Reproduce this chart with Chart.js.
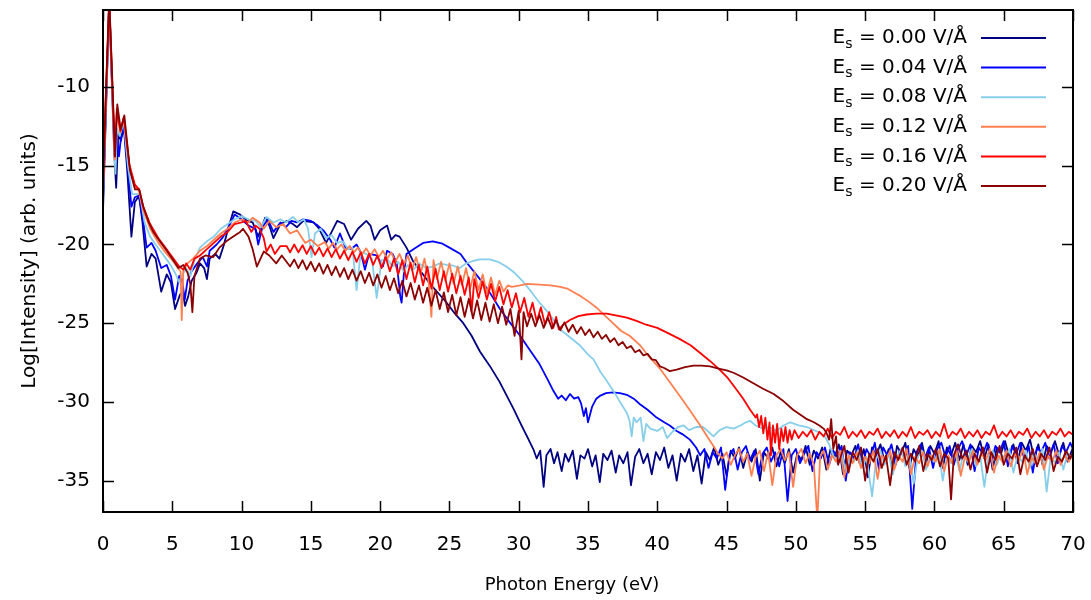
<!DOCTYPE html>
<html>
<head>
<meta charset="utf-8">
<script src="https://cdn.jsdelivr.net/npm/chart.js@4.4.0/dist/chart.umd.min.js"></script>
<style>
  html, body { margin: 0; padding: 0; background: #fff; }
</style>
</head>
<body>
<canvas id="hhg" width="1091" height="600"></canvas>
<script>
// Spectres HHG pour différents champs statiques E_s (log de l'intensité)

const fieldLabels = ['0.00', '0.04', '0.08', '0.12', '0.16', '0.20'];
const colors = ['#000080', '#0000ff', '#87ceeb', '#ff7f50', '#ff0000', '#8b0000'];
const xTicks = [0, 5, 10, 15, 20, 25, 30, 35, 40, 45, 50, 55, 60, 65, 70];
const yTicks = [-35, -30, -25, -20, -15, -10];

// E_s = 0.00 V/Å
const es000 = [
  [0,-17.9],[0.2,-12],[0.45,-4.5],[0.65,-10],[0.8,-14.0],[0.95,-16.4],[1.1,-13.0],[1.3,-13.4],[1.5,-12.5],
  [1.75,-15.3],[2.05,-19.5],[2.3,-17.3],[2.6,-16.9],[2.85,-18.6],[3.15,-21.4],[3.5,-20.6],[3.8,-20.9],
  [4.2,-23.0],[4.6,-21.9],[4.9,-22.4],[5.2,-24.1],[5.55,-23.2],[5.75,-23.0],[5.92,-23.9],[6.15,-23.3],
  [6.4,-22.3],[6.75,-21.8],[7.0,-21.2],[7.3,-21.5],[7.5,-22.2],[7.7,-20.9],[8.1,-20.6],[8.4,-20.9],
  [8.7,-20.1],[9.0,-19.1],[9.4,-17.9],[9.9,-18.1],[10.4,-18.5],[10.8,-18.6],[11.2,-19.5],[11.7,-18.3],
  [12.0,-18.8],[12.3,-19.6],[12.8,-18.7],[13.3,-18.5],[13.7,-18.7],[14.0,-18.9],[14.45,-18.5],[15.2,-18.6],
  [15.6,-19.0],[16.1,-19.9],[16.5,-19.2],[16.9,-18.5],[17.4,-18.7],[17.9,-19.7],[18.4,-19.0],[19.0,-18.5],
  [19.3,-18.8],[19.6,-19.7],[20.0,-19.1],[20.5,-18.8],[20.8,-19.7],[21.1,-19.4],[21.4,-19.5],[21.9,-20.2],
  [22.4,-21.1],[23.0,-21.8],[23.6,-22.5],[24.2,-23.1],[24.8,-23.7],[25.4,-24.4],[26.0,-25.0],[26.6,-25.8],
  [27.2,-26.8],[27.9,-27.7],[28.6,-28.7],[29.6,-30.4],[30.2,-31.5],[30.6,-32.2],[31.05,-33.0],
  [31.3,-33.6],[31.55,-33.1],[31.8,-35.4],[32.0,-33.4],[32.3,-33.0],[32.55,-33.9],[32.8,-33.2],[33.1,-34.4],
  [33.35,-33.3],[33.6,-33.8],[33.9,-33.1],[34.2,-34.9],[34.45,-33.4],[34.75,-33.6],[35.0,-33.0],[35.3,-34.1],
  [35.55,-33.4],[35.85,-35.1],[36.1,-33.3],[36.4,-33.7],[36.7,-33.1],[37.0,-34.5],[37.25,-33.4],[37.55,-33.9],
  [37.85,-33.2],[38.1,-35.3],[38.4,-33.5],[38.7,-33.0],[39.0,-33.9],[39.3,-33.3],[39.6,-34.6],[39.9,-33.2],
  [40.2,-33.7],[40.5,-32.9],[40.8,-34.2],[41.1,-33.4],[41.4,-35.0],[41.7,-33.3],[42.0,-33.8],[42.3,-33.0],
  [42.6,-34.4],[42.9,-33.4],[43.2,-35.2],[43.5,-33.2],[43.8,-33.7],[44.1,-32.9],[44.4,-34.0],[44.7,-33.3],
  [45.0,-34.7],[45.3,-33.1],[45.6,-33.6],[45.9,-32.9],[46.2,-34.2],[46.5,-33.2],[46.8,-33.8],[47.1,-33.0],
  [47.4,-35.0],[47.7,-33.2],[48.0,-33.6],[48.3,-32.9],[48.6,-34.1],[48.9,-33.2],[49.2,-33.9],[49.5,-33.0],
  [49.8,-34.5],[50.1,-33.3],[50.4,-33.7],[50.7,-32.8],[51.0,-34.0],[51.3,-33.1],[51.6,-33.6],[51.9,-32.9],
  [52.2,-34.3],[52.5,-33.0],[52.8,-33.5],[53.1,-32.7],[53.4,-34.6],[53.7,-33.1],[54.0,-33.4],[54.3,-32.8],
  [54.6,-33.9],[54.9,-33.0],[55.2,-34.8],[55.5,-32.9],[55.8,-33.4],[56.1,-32.7],[56.4,-33.8],[56.7,-33.0],
  [57.0,-34.5],[57.3,-32.8],[57.6,-33.3],[57.9,-32.6],[58.2,-34.2],[58.5,-33.0],[58.8,-33.5],[59.1,-32.6],
  [59.4,-33.9],[59.7,-32.8],[60.0,-33.3],[60.3,-32.5],[60.6,-34.2],[60.9,-32.9],[61.2,-33.4],[61.5,-32.6],
  [61.8,-33.7],[62.1,-32.7],[62.4,-34.0],[62.7,-32.8],[63.0,-33.2],[63.3,-32.5],[63.6,-33.6],[63.9,-32.7],
  [64.2,-34.3],[64.5,-32.9],[64.8,-33.3],[65.1,-32.5],[65.4,-33.5],[65.7,-32.7],[66.0,-33.9],[66.3,-32.6],
  [66.6,-33.1],[66.9,-32.4],[67.2,-33.6],[67.5,-32.7],[67.8,-34.0],[68.1,-32.8],[68.4,-33.2],[68.7,-32.5],
  [69.0,-33.4],[69.3,-32.6],[69.6,-33.8],[70.0,-32.9]
];

// E_s = 0.04 V/Å
const es004 = [
  [0,-17.2],[0.2,-11.5],[0.45,-4.6],[0.65,-9.8],[0.8,-13.3],[0.95,-12.6],[1.15,-14.4],[1.3,-13.2],[1.5,-12.4],
  [1.8,-15.2],[2.05,-17.6],[2.3,-17.0],[2.6,-16.9],[2.9,-18.5],[3.15,-20.2],[3.5,-19.9],[3.8,-20.4],
  [4.2,-21.5],[4.6,-21.3],[4.9,-22.0],[5.2,-23.5],[5.5,-22.0],[5.7,-22.2],[5.9,-23.5],[6.1,-22.3],
  [6.4,-21.7],[6.8,-21.2],[7.2,-20.8],[7.5,-21.4],[7.7,-20.4],[8.2,-20.0],[8.6,-19.6],[9.0,-19.0],
  [9.5,-18.1],[10.0,-18.4],[10.5,-18.8],[11.0,-19.0],[11.2,-20.0],[11.5,-18.9],[11.9,-18.4],[12.3,-19.2],
  [12.8,-18.6],[13.2,-18.9],[13.6,-18.5],[14.0,-18.6],[14.45,-18.4],[15.0,-18.5],[15.5,-18.8],[15.9,-19.1],
  [16.4,-19.7],[16.7,-20.2],[17.1,-19.3],[17.5,-20.2],[17.9,-20.3],[18.3,-20.0],[18.6,-20.5],[18.9,-21.6],
  [19.2,-20.6],[19.75,-20.7],[20.2,-21.4],[20.5,-20.4],[20.9,-20.6],[21.2,-21.2],[21.45,-23.3],[21.55,-23.7],
  [21.7,-22.0],[21.9,-20.6],[22.4,-20.3],[23.1,-19.9],[23.8,-19.8],[24.5,-19.95],[25.0,-20.2],[25.8,-20.6],
  [26.2,-21.1],[27.2,-22.2],[27.8,-22.9],[28.65,-24.1],[29.4,-25.0],[30.1,-25.8],[30.8,-26.7],[31.5,-27.6],
  [32.1,-28.6],[32.5,-29.3],[32.85,-29.8],[33.1,-29.6],[33.4,-29.9],[33.7,-29.5],[34.0,-29.8],[34.3,-29.7],
  [34.5,-30.1],[34.7,-30.9],[34.85,-30.4],[35.0,-31.3],[35.3,-30.3],[35.6,-29.8],[35.9,-29.6],[36.3,-29.45],
  [36.8,-29.4],[37.3,-29.45],[37.8,-29.55],[38.3,-29.8],[38.75,-30.15],[39.3,-30.5],[39.95,-31.0],[40.5,-31.3],
  [40.9,-31.5],[41.4,-31.85],[41.8,-32.05],[42.35,-32.4],[42.8,-32.9],
  [43.1,-33.4],[43.4,-33.0],[43.7,-34.2],[44.0,-33.2],[44.3,-33.6],[44.6,-32.9],[44.9,-35.6],[45.2,-33.4],
  [45.5,-33.0],[45.8,-34.3],[46.1,-33.2],[46.4,-32.8],[46.7,-33.7],[47.0,-33.1],[47.3,-34.6],[47.6,-33.3],
  [47.9,-32.9],[48.2,-33.8],[48.5,-33.2],[48.8,-34.1],[49.1,-33.0],[49.4,-36.3],[49.7,-33.4],[50.0,-33.0],
  [50.3,-33.9],[50.6,-33.3],[50.9,-32.8],[51.2,-34.4],[51.5,-33.2],[51.8,-33.6],[52.1,-32.9],[52.4,-34.0],
  [52.7,-33.1],[53.0,-33.5],[53.3,-32.8],[53.6,-35.0],[53.9,-33.2],[54.2,-33.6],[54.5,-32.7],[54.8,-34.1],
  [55.1,-33.0],[55.4,-33.5],[55.7,-32.6],[56.0,-34.3],[56.3,-32.9],[56.6,-33.4],[56.9,-32.7],[57.2,-34.0],
  [57.5,-33.1],[57.8,-33.5],[58.1,-32.8],[58.4,-36.8],[58.7,-33.2],[59.0,-32.7],[59.3,-33.6],[59.6,-32.9],
  [59.9,-34.2],[60.2,-33.0],[60.5,-32.6],[60.8,-33.5],[61.1,-32.8],[61.4,-34.0],[61.7,-33.0],[62.0,-32.5],
  [62.3,-33.4],[62.6,-32.7],[62.9,-34.4],[63.2,-32.9],[63.5,-33.3],[63.8,-32.6],[64.1,-33.8],[64.4,-32.8],
  [64.7,-33.2],[65.0,-32.5],[65.3,-34.1],[65.6,-32.8],[65.9,-33.3],[66.2,-32.6],[66.5,-33.7],[66.8,-32.8],
  [67.1,-34.5],[67.4,-32.9],[67.7,-33.2],[68.0,-32.6],[68.3,-33.6],[68.6,-32.7],[68.9,-33.9],[69.2,-32.8],
  [69.5,-33.2],[69.8,-32.6],[70.0,-33.0]
];

// E_s = 0.08 V/Å
const es008 = [
  [0,-17.0],[0.2,-11.3],[0.45,-4.7],[0.65,-9.6],[0.8,-13.8],[0.9,-15.5],[1.0,-12.6],[1.2,-13.1],[1.5,-12.2],
  [1.8,-15.0],[2.1,-16.8],[2.4,-16.8],[2.65,-16.8],[3.0,-18.6],[3.4,-19.5],[3.8,-20.0],[4.3,-20.6],
  [4.8,-21.2],[5.2,-21.8],[5.5,-22.4],[5.75,-21.9],[6.0,-21.5],[6.3,-22.0],[6.6,-21.0],[7.0,-20.2],
  [7.5,-19.8],[8.0,-19.5],[8.5,-19.0],[9.0,-18.7],[9.5,-18.4],[10.0,-18.2],[10.5,-18.4],[11.0,-18.5],
  [11.4,-18.9],[11.8,-18.25],[12.3,-18.6],[12.8,-18.4],[13.2,-18.6],[13.7,-18.25],[14.1,-18.6],[14.5,-18.4],
  [14.8,-19.0],[15.05,-20.8],[15.3,-19.3],[15.7,-19.0],[16.1,-19.6],[16.5,-19.4],[16.9,-19.9],[17.3,-19.8],
  [17.7,-20.3],[18.0,-20.2],[18.3,-22.9],[18.6,-20.5],[19.0,-20.6],[19.4,-20.9],[19.75,-23.4],[20.1,-21.0],
  [20.5,-20.9],[20.9,-21.4],[21.3,-21.1],[21.7,-21.7],[22.0,-21.3],[22.4,-21.6],[22.8,-21.2],[23.3,-21.5],
  [23.8,-21.4],[24.3,-21.2],[24.8,-21.3],[25.3,-21.35],[25.75,-21.5],[26.2,-21.2],[26.7,-21.05],[27.2,-20.95],
  [27.9,-20.95],[28.5,-21.1],[29.1,-21.4],[29.7,-21.8],[30.3,-22.35],[30.9,-23.0],[31.5,-23.7],[32.2,-24.4],
  [33.0,-25.4],[33.7,-25.9],[34.4,-26.4],[35.0,-27.0],[35.4,-27.3],[35.9,-28.1],[36.3,-28.6],[36.9,-29.4],
  [37.3,-30.0],[37.8,-30.7],[38.0,-31.2],[38.15,-32.2],[38.3,-31.0],[38.5,-31.3],[38.8,-31.0],[39.0,-32.5],
  [39.2,-31.4],[39.5,-31.7],[40.0,-31.85],[40.4,-31.6],[40.7,-32.3],[41.1,-31.9],[41.5,-31.6],[41.9,-31.5],
  [42.3,-31.8],[42.8,-31.6],[43.3,-31.6],[43.7,-31.9],[44.05,-32.2],[44.5,-31.8],[45.0,-31.6],[45.5,-31.7],
  [46.0,-31.5],[46.4,-31.3],[46.7,-31.2],[47.1,-31.5],[47.6,-31.7],[48.1,-31.6],[48.6,-31.85],[49.1,-31.5],
  [49.6,-31.3],[50.2,-31.5],[50.8,-31.6],[51.3,-31.8],[51.7,-31.95],[52.1,-32.2],[52.4,-32.7],
  [52.7,-33.4],[53.0,-33.9],[53.3,-33.2],[53.6,-34.5],[53.9,-33.4],[54.2,-33.8],[54.5,-33.1],[54.8,-34.2],
  [55.1,-33.5],[55.5,-36.0],[55.8,-33.6],[56.1,-33.1],[56.4,-34.0],[56.7,-33.3],[57.0,-34.6],[57.3,-33.5],
  [57.6,-33.0],[57.9,-34.1],[58.2,-33.4],[58.5,-35.2],[58.8,-33.5],[59.1,-33.1],[59.4,-34.3],[59.7,-33.4],
  [60.0,-33.8],[60.3,-33.1],[60.6,-35.0],[60.9,-33.5],[61.2,-33.9],[61.5,-33.2],[61.8,-34.4],[62.1,-33.3],
  [62.4,-33.8],[62.7,-33.0],[63.0,-34.1],[63.3,-33.4],[63.6,-35.4],[63.9,-33.5],[64.2,-33.1],[64.5,-34.0],
  [64.8,-33.3],[65.1,-33.7],[65.4,-33.0],[65.7,-34.5],[66.0,-33.4],[66.3,-33.8],[66.6,-33.1],[66.9,-34.2],
  [67.2,-33.3],[67.5,-33.7],[67.8,-33.0],[68.1,-35.7],[68.4,-33.4],[68.7,-33.9],[69.0,-33.2],[69.3,-34.3],
  [69.6,-33.3],[70.0,-33.6]
];

// E_s = 0.12 V/Å
const es012 = [
  [0,-16.5],[0.2,-11.0],[0.45,-4.6],[0.65,-9.4],[0.85,-14.6],[1.0,-11.5],[1.25,-12.9],[1.5,-12.0],[1.9,-15.0],
  [2.3,-16.3],[2.6,-16.6],[2.9,-17.8],[3.4,-19.0],[4.0,-19.9],[4.5,-20.5],[5.0,-21.0],[5.4,-21.5],[5.6,-21.7],
  [5.68,-24.8],[5.8,-21.6],[6.1,-21.2],[6.5,-20.9],[7.0,-20.4],[7.5,-20.1],[8.0,-19.7],[8.5,-19.3],[9.0,-19.0],
  [9.5,-18.6],[10.0,-18.4],[10.5,-18.6],[10.8,-18.3],[11.3,-18.6],[11.6,-19.0],[12.0,-18.5],[12.5,-18.9],
  [13.0,-18.7],[13.5,-19.3],[14.0,-19.1],[14.6,-19.9],[15.0,-19.7],[15.5,-20.1],
  [16.0,-19.85],[16.3,-20.25],[16.6,-19.9],[16.9,-20.3],[17.2,-20.0],[17.5,-20.4],[17.8,-20.1],[18.1,-20.5],
  [18.4,-20.2],[18.7,-20.6],[19.0,-20.25],[19.3,-20.7],[19.6,-20.3],[19.9,-20.8],[20.2,-20.4],[20.5,-20.9],
  [20.8,-20.5],[21.1,-21.1],[21.4,-20.6],[21.7,-21.3],[22.0,-20.7],[22.3,-21.6],[22.6,-20.8],[22.9,-21.9],
  [23.2,-20.9],[23.5,-22.4],[23.7,-24.6],[23.85,-21.0],[24.1,-22.2],[24.4,-21.1],[24.7,-22.3],[25.0,-21.2],
  [25.3,-22.5],[25.6,-21.4],[25.9,-22.6],[26.2,-21.5],[26.5,-22.8],[26.8,-21.7],[27.1,-22.9],[27.4,-21.9],
  [27.7,-23.1],[28.0,-22.1],[28.3,-23.2],[28.6,-22.3],[28.9,-23.0],[29.2,-22.6],[29.5,-22.7],
  [30.1,-22.6],[30.6,-22.5],[31.5,-22.55],[32.3,-22.6],[33.0,-22.7],[33.5,-22.8],[34.0,-23.05],[34.5,-23.3],
  [35.0,-23.6],[35.6,-24.0],[36.2,-24.5],[36.8,-25.0],[37.4,-25.5],[38.0,-25.8],[38.75,-26.4],[39.2,-26.9],
  [40.2,-27.9],[41.6,-29.6],[42.4,-30.6],[43.1,-31.5],[43.6,-32.2],[44.05,-32.8],[44.4,-33.3],
  [44.7,-33.6],[45.0,-33.2],[45.3,-34.0],[45.6,-33.4],[45.9,-33.0],[46.2,-33.8],[46.5,-33.3],[46.8,-34.7],
  [47.1,-33.5],[47.4,-33.1],[47.7,-34.4],[48.0,-33.2],[48.3,-35.3],[48.6,-33.4],[48.9,-33.0],[49.2,-33.7],
  [49.5,-33.2],[49.8,-35.4],[50.1,-33.4],[50.4,-33.0],[50.7,-33.9],[51.0,-33.3],[51.3,-34.0],[51.55,-37.5],
  [51.75,-33.5],[52.0,-33.1],[52.3,-34.3],[52.6,-33.4],[52.9,-33.8],[53.2,-33.1],[53.5,-34.8],[53.8,-33.4],
  [54.1,-33.9],[54.4,-33.2],[54.7,-34.2],[55.0,-33.5],[55.3,-33.9],[55.6,-33.1],[55.9,-34.9],[56.2,-33.4],
  [56.5,-33.8],[56.8,-33.1],[57.1,-34.3],[57.4,-33.4],[57.7,-33.8],[58.0,-33.0],[58.3,-34.6],[58.6,-33.5],
  [58.9,-33.9],[59.2,-33.2],[59.5,-34.1],[59.8,-33.4],[60.1,-33.8],[60.4,-33.0],[60.7,-34.4],[61.0,-33.4],
  [61.3,-33.9],[61.6,-33.1],[61.9,-34.7],[62.2,-33.5],[62.5,-33.8],[62.8,-33.1],[63.1,-34.0],[63.4,-33.3],
  [63.7,-33.7],[64.0,-33.0],[64.3,-34.5],[64.6,-33.4],[64.9,-33.8],[65.2,-33.1],[65.5,-34.1],[65.8,-33.3],
  [66.1,-33.7],[66.4,-33.0],[66.7,-34.6],[67.0,-33.5],[67.3,-33.9],[67.6,-33.2],[67.9,-34.3],[68.2,-33.4],
  [68.5,-33.8],[68.8,-33.1],[69.1,-34.0],[69.4,-33.4],[69.7,-33.8],[70.0,-33.3]
];

// E_s = 0.16 V/Å
const es016 = [
  [0,-16.4],[0.2,-10.8],[0.45,-4.5],[0.65,-9.3],[0.85,-14.4],[1.0,-11.4],[1.25,-12.8],[1.5,-11.9],[1.9,-14.9],
  [2.3,-16.2],[2.6,-16.5],[2.9,-17.6],[3.4,-18.7],[4.0,-19.6],[4.5,-20.2],[5.0,-20.8],[5.5,-21.4],[5.8,-21.6],
  [6.0,-21.2],[6.3,-21.6],[6.6,-20.9],[7.0,-20.7],[7.5,-20.3],[8.0,-19.9],[8.5,-19.5],[9.0,-19.2],[9.5,-18.7],
  [10.0,-18.6],[10.3,-18.5],[10.7,-19.2],[11.0,-18.8],[11.3,-19.0],[11.6,-19.6],[11.8,-20.45],[12.1,-20.0],
  [12.4,-20.6],[12.8,-20.1],[13.25,-20.1],[13.5,-20.5],
  [13.8,-20.0],[14.1,-20.5],[14.4,-20.05],[14.7,-20.6],[15.0,-20.1],[15.3,-20.65],[15.6,-20.2],[15.9,-20.75],
  [16.2,-20.25],[16.5,-20.8],[16.8,-20.3],[17.1,-20.9],[17.4,-20.4],[17.7,-21.0],[18.0,-20.45],[18.3,-21.1],
  [18.6,-20.5],[18.9,-21.2],[19.2,-20.6],[19.5,-21.3],[19.8,-20.7],[20.1,-21.5],[20.4,-20.8],[20.7,-21.7],
  [21.0,-20.9],[21.3,-21.9],[21.6,-21.0],[21.9,-22.2],[22.2,-21.15],[22.5,-22.4],[22.8,-21.3],[23.1,-22.6],
  [23.4,-21.4],[23.7,-22.8],[24.0,-21.55],[24.3,-22.9],[24.6,-21.7],[24.9,-23.0],[25.2,-21.85],[25.5,-23.1],
  [25.8,-22.0],[26.1,-23.2],[26.4,-22.1],[26.6,-24.3],[26.8,-22.2],[27.1,-23.4],[27.4,-22.35],[27.7,-23.5],
  [28.0,-22.5],[28.3,-23.6],[28.6,-22.7],[28.9,-23.8],[29.2,-22.9],[29.5,-24.0],[29.8,-23.1],[30.1,-24.3],
  [30.4,-23.4],[30.7,-24.6],[31.0,-23.7],[31.3,-24.9],[31.6,-24.0],[31.9,-25.1],[32.2,-24.3],[32.5,-25.3],
  [32.7,-24.6],[32.9,-25.4],[33.2,-25.1],
  [33.7,-24.8],[34.3,-24.55],[34.9,-24.45],[35.6,-24.4],[36.35,-24.4],[37.0,-24.5],[37.8,-24.65],[38.5,-24.85],
  [39.2,-25.1],[40.0,-25.3],[40.7,-25.6],[41.6,-26.0],[42.4,-26.4],[43.1,-26.9],[43.8,-27.4],[44.5,-27.95],
  [45.1,-28.5],[45.7,-29.2],[46.2,-29.8],[46.7,-30.5],[47.1,-31.0],
  [47.2,-30.8],[47.35,-31.6],[47.5,-30.9],[47.65,-32.0],[47.8,-31.0],[47.95,-32.4],[48.1,-31.3],[48.2,-33.4],
  [48.35,-31.5],[48.5,-32.6],[48.65,-31.4],[48.8,-33.0],[48.95,-31.7],[49.1,-32.5],[49.25,-31.6],[49.4,-32.6],
  [49.55,-31.8],[49.7,-32.4],
  [49.9,-31.8],[50.2,-32.3],[50.5,-31.9],[50.8,-32.2],[51.1,-31.8],[51.4,-32.4],[51.7,-31.9],[52.0,-32.2],
  [52.3,-31.7],[52.6,-32.3],[52.9,-31.9],[53.2,-32.1],[53.5,-31.6],[53.8,-32.3],[54.1,-31.9],[54.4,-32.2],
  [54.7,-31.8],[55.0,-32.3],[55.3,-31.9],[55.6,-32.1],[55.9,-31.7],[56.2,-32.3],[56.5,-31.9],[56.8,-32.2],
  [57.1,-31.8],[57.4,-32.3],[57.7,-31.9],[58.0,-32.2],[58.3,-31.6],[58.6,-32.3],[58.9,-31.9],[59.2,-32.1],
  [59.5,-31.8],[59.8,-32.3],[60.1,-31.9],[60.4,-32.2],[60.7,-31.4],[61.0,-32.3],[61.3,-31.9],[61.6,-32.1],
  [61.9,-31.7],[62.2,-32.3],[62.5,-31.9],[62.8,-32.2],[63.1,-31.8],[63.4,-32.3],[63.7,-31.9],[64.0,-32.1],
  [64.3,-31.5],[64.6,-32.3],[64.9,-31.9],[65.2,-32.2],[65.5,-31.8],[65.8,-32.3],[66.1,-31.9],[66.4,-32.1],
  [66.7,-31.7],[67.0,-32.3],[67.3,-31.9],[67.6,-32.2],[67.9,-31.8],[68.2,-32.3],[68.5,-31.9],[68.8,-32.1],
  [69.1,-31.7],[69.4,-32.2],[69.7,-31.9],[70.0,-32.1]
];

// E_s = 0.20 V/Å
const es020 = [
  [0,-16.3],[0.2,-10.5],[0.45,-4.3],[0.65,-9.0],[0.87,-14.4],[1.03,-11.1],[1.28,-12.7],[1.54,-11.8],[1.95,-15.3],
  [2.31,-16.5],[2.62,-16.5],[2.91,-17.6],[3.3,-18.6],[3.63,-19.2],[4.1,-19.8],[4.6,-20.4],[5.0,-20.9],
  [5.44,-21.5],[5.8,-21.3],[6.1,-21.8],[6.3,-22.5],[6.45,-24.3],[6.6,-22.0],[7.0,-20.9],[7.4,-20.7],
  [7.96,-20.8],[8.4,-20.2],[8.9,-19.8],[9.4,-19.5],[9.9,-19.2],[10.1,-19.0],[10.5,-19.5],[10.8,-20.3],
  [11.1,-21.4],[11.6,-20.45],[12.0,-20.7],[12.5,-21.2],[12.9,-20.7],[13.5,-21.4],
  [13.8,-20.95],[14.1,-21.5],[14.4,-21.0],[14.7,-21.6],[15.0,-21.1],[15.3,-21.7],[15.6,-21.2],[15.9,-21.85],
  [16.2,-21.3],[16.5,-21.95],[16.8,-21.4],[17.1,-22.05],[17.4,-21.5],[17.7,-22.2],[18.0,-21.6],[18.3,-22.3],
  [18.6,-21.7],[18.9,-22.45],[19.2,-21.8],[19.5,-22.6],[19.8,-21.9],[20.1,-22.75],[20.4,-22.0],[20.7,-22.9],
  [21.0,-22.15],[21.3,-23.1],[21.6,-22.3],[21.9,-23.3],[22.2,-22.45],[22.5,-23.5],[22.8,-22.6],[23.1,-23.7],
  [23.4,-22.75],[23.7,-23.9],[24.0,-22.9],[24.3,-24.1],[24.6,-23.05],[24.9,-24.3],[25.2,-23.2],[25.5,-24.5],
  [25.8,-23.35],[26.1,-24.6],[26.4,-23.45],[26.7,-24.7],[27.0,-23.55],[27.3,-24.8],[27.6,-23.7],[27.9,-24.9],
  [28.2,-23.8],[28.5,-25.0],[28.8,-23.95],[29.1,-25.1],[29.4,-24.1],[29.7,-25.8],[30.0,-24.2],[30.2,-27.3],
  [30.35,-24.3],[30.6,-25.2],[30.9,-24.4],[31.2,-25.2],[31.5,-24.5],[31.8,-25.3],[32.1,-24.65],[32.4,-25.35],
  [32.7,-24.8],[33.0,-25.45],[33.3,-24.95],[33.6,-25.55],[33.9,-25.1],[34.2,-25.65],[34.5,-25.25],[34.8,-25.75],
  [35.1,-25.4],[35.4,-25.9],[35.7,-25.55],[36.0,-26.0],[36.3,-25.75],[36.6,-26.2],[36.9,-25.95],[37.2,-26.4],
  [37.5,-26.2],[37.8,-26.6],[38.1,-26.45],[38.4,-26.85],[38.7,-26.7],[39.0,-27.05],[39.3,-26.95],[39.6,-27.3],
  [39.9,-27.35],[40.2,-27.75],[40.5,-27.85],[40.9,-28.05],[41.4,-27.95],[42.0,-27.8],[42.6,-27.7],[43.2,-27.7],
  [43.8,-27.75],[44.5,-27.9],[45.0,-28.0],[45.5,-28.15],[46.2,-28.45],[46.9,-28.8],[47.6,-29.15],[48.4,-29.5],
  [49.1,-29.95],[49.8,-30.5],[50.3,-30.8],[50.8,-31.1],[51.3,-31.3],[51.7,-31.5],[52.0,-31.7],[52.2,-31.95],
  [52.4,-32.4],[52.55,-31.1],[52.7,-33.0],[52.9,-32.2],[53.05,-34.0],
  [53.2,-33.6],[53.5,-32.8],[53.8,-34.5],[54.1,-33.2],[54.4,-33.7],[54.7,-32.9],[55.0,-35.0],[55.3,-33.3],
  [55.6,-33.8],[55.9,-33.0],[56.2,-34.2],[56.5,-33.4],[56.8,-35.3],[57.1,-33.2],[57.4,-33.7],[57.7,-32.9],
  [58.0,-34.0],[58.3,-33.3],[58.6,-33.8],[58.9,-32.8],[59.2,-34.4],[59.5,-33.3],[59.8,-33.7],[60.1,-33.0],
  [60.4,-34.1],[60.7,-33.3],[61.0,-33.6],[61.2,-36.2],[61.4,-33.4],[61.7,-32.7],[62.0,-33.6],[62.3,-33.1],
  [62.6,-34.3],[62.9,-33.3],[63.2,-33.8],[63.5,-32.9],[63.8,-34.5],[64.1,-33.2],[64.4,-33.7],[64.7,-32.8],
  [65.0,-34.0],[65.3,-33.3],[65.6,-33.6],[65.9,-32.9],[66.2,-34.6],[66.5,-33.4],[66.8,-33.8],[67.1,-33.0],
  [67.4,-34.1],[67.7,-33.3],[68.0,-33.7],[68.3,-32.9],[68.6,-34.4],[68.9,-33.5],[69.2,-33.8],[69.5,-33.1],
  [69.8,-33.6],[70.0,-33.2]
];

const seriesData = [es000, es004, es008, es012, es016, es020];

// cadre + graduations vers l'intérieur (style gnuplot)
const framePlugin = {
  id: 'frame',
  afterDatasetsDraw(chart) {
    const { ctx, chartArea: a, scales } = chart;
    const tl = 11;
    ctx.save();
    ctx.strokeStyle = '#000';
    ctx.lineWidth = 1.5;
    ctx.beginPath();
    xTicks.forEach(v => {
      const px = Math.round(scales.x.getPixelForValue(v)) + 0.5;
      ctx.moveTo(px, a.bottom); ctx.lineTo(px, a.bottom - tl);
      ctx.moveTo(px, a.top); ctx.lineTo(px, a.top + tl);
    });
    yTicks.forEach(v => {
      const py = Math.round(scales.y.getPixelForValue(v)) + 0.5;
      ctx.moveTo(a.left, py); ctx.lineTo(a.left + tl, py);
      ctx.moveTo(a.right, py); ctx.lineTo(a.right - tl, py);
    });
    ctx.stroke();
    ctx.lineWidth = 2;
    ctx.strokeRect(a.left, a.top, a.right - a.left, a.bottom - a.top);
    ctx.restore();
  }
};

// légende dans le coin supérieur droit + titre de l'axe x
const keyPlugin = {
  id: 'key',
  afterDraw(chart) {
    const { ctx } = chart;
    const textRight = 967;
    const lineX0 = 981, lineX1 = 1046;
    ctx.save();
    ctx.fillStyle = '#000';
    ctx.textBaseline = 'middle';
    ctx.textAlign = 'right';
    fieldLabels.forEach((lab, i) => {
      const y = 38 + i * 29.6;
      const rest = ' = ' + lab + ' V/Å';
      ctx.font = '20px "DejaVu Sans"';
      ctx.fillText(rest, textRight, y);
      const w = ctx.measureText(rest).width;
      ctx.font = '14px "DejaVu Sans"';
      ctx.fillText('s', textRight - w, y + 6);
      const ws = ctx.measureText('s').width;
      ctx.font = '20px "DejaVu Sans"';
      ctx.fillText('E', textRight - w - ws, y);
      ctx.strokeStyle = colors[i];
      ctx.lineWidth = 2;
      ctx.beginPath();
      ctx.moveTo(lineX0, y);
      ctx.lineTo(lineX1, y);
      ctx.stroke();
    });
    ctx.textAlign = 'center';
    ctx.font = '18px "DejaVu Sans"';
    ctx.fillText('Photon Energy (eV)', 572, 585);
    ctx.restore();
  }
};

// supprime la marge réservée aux étiquettes extrêmes
const noPad = s => {
  s.paddingTop = 0; s.paddingBottom = 0; s.paddingLeft = 0; s.paddingRight = 0;
};

new Chart(document.getElementById('hhg'), {
  type: 'line',
  data: {
    datasets: seriesData.map((d, i) => ({
      label: 'Es = ' + fieldLabels[i] + ' V/Å',
      data: d,
      borderColor: colors[i],
      borderWidth: 1.8,
      pointRadius: 0,
      tension: 0,
      borderJoinStyle: 'round',
      fill: false,
      order: seriesData.length - i,
    })),
  },
  options: {
    responsive: false,
    animation: false,
    devicePixelRatio: 1,
    layout: { padding: { left: 0, right: 18, top: 10, bottom: 0 } },
    plugins: {
      legend: { display: false },
      tooltip: { enabled: false },
    },
    scales: {
      x: {
        type: 'linear',
        min: 0,
        max: 70,
        grid: { display: false, drawTicks: false },
        border: { display: false },
        afterBuildTicks: s => { s.ticks = xTicks.map(v => ({ value: v })); },
        afterFit: s => { s.height = 88; noPad(s); },
        ticks: {
          color: '#000',
          padding: 21,
          maxRotation: 0,
          font: { family: 'DejaVu Sans', size: 20 },
          callback: v => String(v),
        },
        title: { display: false },
      },
      y: {
        type: 'linear',
        min: -37,
        max: -5.1,
        grid: { display: false, drawTicks: false },
        border: { display: false },
        afterBuildTicks: s => { s.ticks = yTicks.map(v => ({ value: v })); },
        afterFit: s => { s.width = 103; noPad(s); },
        ticks: {
          color: '#000',
          padding: 13,
          font: { family: 'DejaVu Sans', size: 20 },
          callback: v => String(v),
        },
        title: {
          display: true,
          text: 'Log[Intensity] (arb. units)',
          color: '#000',
          font: { family: 'DejaVu Sans', size: 20 },
          padding: { top: 18, bottom: 0 },
        },
      },
    },
  },
  plugins: [framePlugin, keyPlugin],
});
</script>
</body>
</html>
